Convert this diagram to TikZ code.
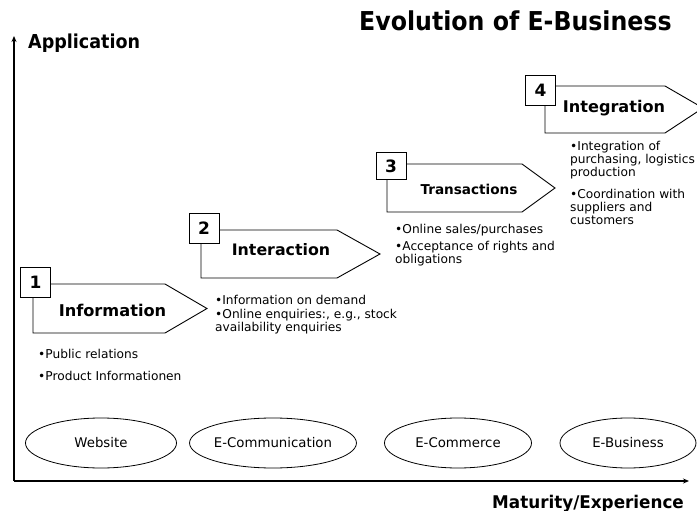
\documentclass[tikz,border=0pt]{standalone}
\usepackage{fontspec}
\usepackage{graphicx}
\setmainfont{DejaVu Sans}
\usetikzlibrary{shapes.geometric,arrows.meta}
\begin{document}
\begin{tikzpicture}[x=1pt,y=-1pt,
  pent/.style={draw=black,line width=0.9pt,fill=white,line join=miter},
  numbox/.style={draw=black,line width=0.9pt,fill=white,minimum width=30pt,minimum height=30pt,inner sep=0pt,font=\fontsize{17}{17}\selectfont\bfseries},
  stage/.style={inner sep=0pt,anchor=base,font=\bfseries},
  bul/.style={anchor=north west,inner sep=0pt,align=left,font=\fontsize{12.2}{12.8}\selectfont},
  oval/.style={ellipse,draw=black,line width=0.8pt,minimum height=50pt,inner sep=0pt,font=\fontsize{13.3}{13.3}\selectfont},
  axis/.style={line width=1.3pt,-{Stealth[length=6pt,width=5pt]}},
  headline/.style={inner sep=0pt,anchor=base west,font=\bfseries}
]
\useasboundingbox (0,0) rectangle (697,511);
\begin{scope}
\clip (0,0) rectangle (697,511);

% axes
\coordinate (O) at (14,481);
\coordinate (Ytop) at (14,36);
\coordinate (Xend) at (689,481);
\draw[axis] (O) -- (Ytop);
\draw[axis] (O) -- (Xend);

% headings
\node[headline] (title) at (359,31) {\fontsize{26}{26}\selectfont\scalebox{0.91}[1]{Evolution of E-Business}};
\node[headline] (app) at (28,49) {\fontsize{19.2}{19.2}\selectfont\scalebox{0.914}[1]{Application}};
\node[headline] (mat) at (492,508) {\fontsize{17.5}{17.5}\selectfont\scalebox{0.96}[1]{Maturity/Experience}};

% stage 1
\draw[pent] (33,284) -- (165,284) -- (207,308.5) -- (165,333) -- (33,333) -- cycle;
\node[numbox] (n1) at (35.5,282.5) {1};
\node[stage,font=\fontsize{16.2}{16.2}\selectfont\bfseries] (s1) at (112.5,316) {Information};
\node[bul] (b1a) at (38,349) {•Public relations};
\node[bul] (b1b) at (38,371) {•Product Informationen};

% stage 2
\draw[pent] (201,230) -- (337,230) -- (380,254) -- (337,278) -- (201,278) -- cycle;
\node[numbox] (n2) at (204,228) {2};
\node[stage,font=\fontsize{15.8}{15.8}\selectfont\bfseries] (s2) at (281,255) {Interaction};
\node[bul] (b2a) at (215,295) {•Information on demand};
\node[bul] (b2b) at (215,309) {•Online enquiries:, e.g., stock\\availability enquiries};

% stage 3
\draw[pent] (387,164) -- (522,164) -- (555,188) -- (522,212) -- (387,212) -- cycle;
\node[numbox,minimum height=27pt] (n3) at (391,166) {3};
\node[stage,font=\fontsize{13.6}{13.6}\selectfont\bfseries] (s3) at (469,194) {Transactions};
\node[bul] (b3a) at (395,224) {•Online sales/purchases};
\node[bul] (b3b) at (395,241) {•Acceptance of rights and\\obligations};

% stage 4
\draw[pent] (545,86) -- (665,86) -- (703,108) -- (665,133) -- (545,133) -- cycle;
\node[numbox] (n4) at (540.5,90) {4};
\node[stage,font=\fontsize{16.1}{16.1}\selectfont\bfseries] (s4) at (614,112.5) {Integration};
\node[bul] (b4a) at (570,141) {•Integration of\\purchasing, logistics\\production};
\node[bul] (b4b) at (570,189) {•Coordination with\\suppliers and\\customers};

% ellipses
\node[oval,minimum width=151pt] (web) at (101,443) {Website};
\node[oval,minimum width=143pt] (ecom) at (273,443) {E-Communication};
\node[oval,minimum width=147pt] (ecomm) at (458,443) {E-Commerce};
\node[oval,minimum width=136pt] (ebus) at (628,443) {E-Business};
\end{scope}
\end{tikzpicture}
\end{document}
